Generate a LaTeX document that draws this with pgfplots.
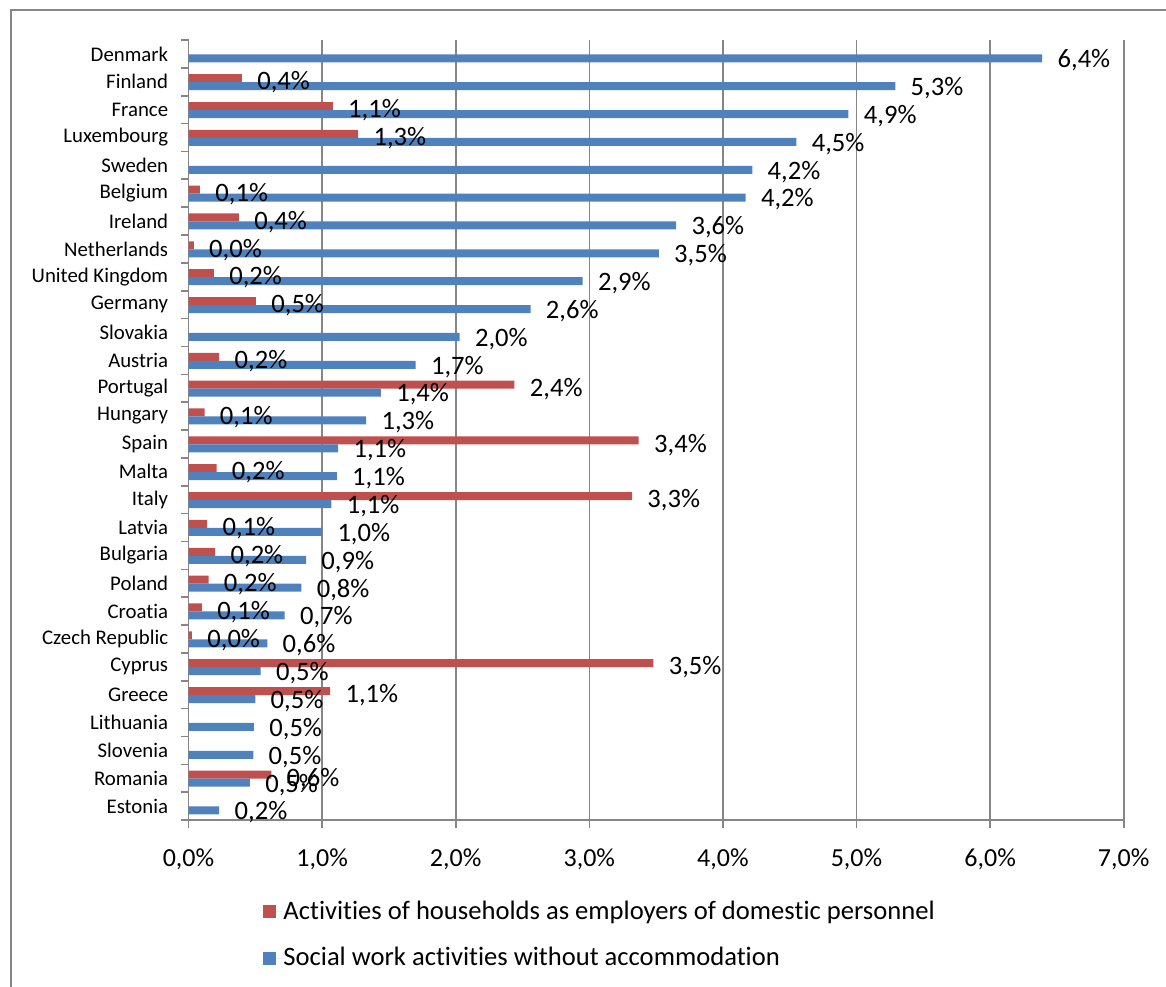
\documentclass[border=0pt]{standalone}
\usepackage{pgfplots}
\pgfplotsset{compat=1.18}
\usepackage{fontspec}
\setmainfont{Carlito}[Ligatures=NoCommon]
\definecolor{redbar}{RGB}{192,80,77}
\definecolor{bluebar}{RGB}{79,129,189}
\definecolor{gridgray}{RGB}{134,134,134}
\begin{document}
\begin{tikzpicture}
\path[use as bounding box] (0pt,0pt) rectangle (583pt,-493pt);
\draw[gridgray, line width=0.8pt] (5.5pt,-700pt) -- (5.5pt,-5pt) -- (700pt,-5pt);
\begin{axis}[
  at={(94.25pt,-410pt)}, anchor=south west,
  scale only axis, width=467.6pt, height=390pt,
  xbar, bar width=4pt,
  xmin=0, xmax=7, ymin=0.5, ymax=28.5,
  axis lines*=left,
  axis line style={gridgray, line width=0.8pt},
  xmajorgrids, grid style={gridgray, line width=0.8pt},
  tick style={gridgray, line width=0.8pt},
  tick align=outside, major tick length=4pt,
  xtick={0,1,2,3,4,5,6,7},
  xticklabels={{0,0\%},{1,0\%},{2,0\%},{3,0\%},{4,0\%},{5,0\%},{6,0\%},{7,0\%}},
  ytick={0.5,1.5,...,28.5},
  y tick label as interval,
  yticklabels={Estonia,Romania,Slovenia,Lithuania,Greece,Cyprus,Czech Republic,Croatia,Poland,Bulgaria,Latvia,Italy,Malta,Spain,Hungary,Portugal,Austria,Slovakia,Germany,United Kingdom,Netherlands,Ireland,Belgium,Sweden,Luxembourg,France,Finland,Denmark},
  y tick label style={font=\fontsize{10.4}{12}\selectfont, anchor=east, inner sep=0pt, xshift=-6pt},
  x tick label style={font=\fontsize{13}{15}\selectfont, anchor=north, inner sep=0pt, yshift=-10pt},
  nodes near coords, point meta=explicit symbolic,
  every node near coord/.append style={font=\fontsize{13.3}{15}\selectfont, anchor=west, inner sep=0pt, xshift=7.5pt, black},
  legend style={at={(0.0797,-0.1474)}, anchor=west, draw=none, fill=none,
    font=\fontsize{13.3}{15}\selectfont, row sep=12.5pt, inner sep=0pt,
    nodes={inner sep=0pt, anchor=west}},
  legend cell align=left,
  legend image code/.code={\fill[#1] (0pt,-3.25pt) rectangle (6.5pt,3.25pt); \path (0pt,0pt) -- (10pt,0pt);},
]
\addplot[fill=redbar, draw=none, bar shift=1.8pt, every node near coord/.append style={yshift=-2.2pt}] coordinates {
 (0.40,27) [0,4\%]
 (1.08,26) [1,1\%]
 (1.27,25) [1,3\%]
 (0.086,23) [0,1\%]
 (0.377,22) [0,4\%]
 (0.04,21) [0,0\%]
 (0.19,20) [0,2\%]
 (0.505,19) [0,5\%]
 (0.23,17) [0,2\%]
 (2.44,16) [2,4\%]
 (0.12,15) [0,1\%]
 (3.37,14) [3,4\%]
 (0.21,13) [0,2\%]
 (3.32,12) [3,3\%]
 (0.14,11) [0,1\%]
 (0.20,10) [0,2\%]
 (0.15,9) [0,2\%]
 (0.10,8) [0,1\%]
 (0.026,7) [0,0\%]
 (3.48,6) [3,5\%]
 (1.06,5) [1,1\%]
 (0.62,2) [0,6\%]
};
\addlegendentry{Activities of households as employers of domestic personnel}
\addplot[fill=bluebar, draw=none, bar shift=-2.2pt, every node near coord/.append style={yshift=-1pt}] coordinates {
 (6.39,28) [6,4\%]
 (5.29,27) [5,3\%]
 (4.94,26) [4,9\%]
 (4.55,25) [4,5\%]
 (4.22,24) [4,2\%]
 (4.17,23) [4,2\%]
 (3.65,22) [3,6\%]
 (3.52,21) [3,5\%]
 (2.95,20) [2,9\%]
 (2.56,19) [2,6\%]
 (2.03,18) [2,0\%]
 (1.70,17) [1,7\%]
 (1.44,16) [1,4\%]
 (1.33,15) [1,3\%]
 (1.12,14) [1,1\%]
 (1.11,13) [1,1\%]
 (1.07,12) [1,1\%]
 (1.00,11) [1,0\%]
 (0.88,10) [0,9\%]
 (0.845,9) [0,8\%]
 (0.72,8) [0,7\%]
 (0.59,7) [0,6\%]
 (0.54,6) [0,5\%]
 (0.50,5) [0,5\%]
 (0.49,4) [0,5\%]
 (0.485,3) [0,5\%]
 (0.46,2) [0,5\%]
 (0.23,1) [0,2\%]
};
\addlegendentry{Social work activities without accommodation}
\end{axis}
\end{tikzpicture}
\end{document}
